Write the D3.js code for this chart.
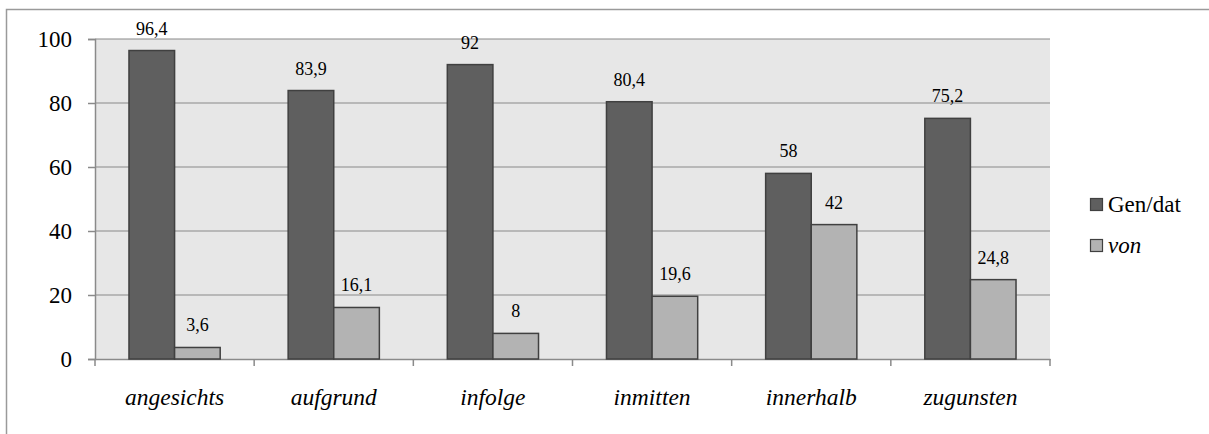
<!DOCTYPE html>
<html>
<head>
<meta charset="utf-8">
<script src="https://cdn.jsdelivr.net/npm/d3@7"></script>
<style>
  html, body { margin: 0; padding: 0; background: #fff; }
  svg { display: block; }
  svg text { font-family: "Liberation Serif", "Times New Roman", Times, serif; fill: #000; }
</style>
</head>
<body>
<svg id="chart" width="1209" height="434"></svg>
<script>
const categories = ["angesichts", "aufgrund", "infolge", "inmitten", "innerhalb", "zugunsten"];
const seriesNames = ["Gen/dat", "von"];
const genDat = [96.4, 83.9, 92, 80.4, 58, 75.2];
const von = [3.6, 16.1, 8, 19.6, 42, 24.8];
const yTicks = [0, 20, 40, 60, 80, 100];
const labelsGen = ["96,4", "83,9", "92", "80,4", "58", "75,2"];
const labelsVon = ["3,6", "16,1", "8", "19,6", "42", "24,8"];

const colors = ["#5f5f5f", "#b3b3b3"];
const FONT = "'Liberation Serif', 'Times New Roman', Times, serif";
const svg = d3.select("#chart");

// outer border (only top and left visible)
svg.append("rect").attr("x", 6.5).attr("y", 9.5).attr("width", 1230).attr("height", 450)
  .attr("fill", "#fff").attr("stroke", "#9a9a9a").attr("stroke-width", 1.5);

const plot = { left: 95, right: 1050, top: 39, bottom: 359 };
const x = d3.scaleBand().domain(categories).range([plot.left, plot.right]).paddingInner(0).paddingOuter(0);
const xs = d3.scaleBand().domain(seriesNames).range([0, x.bandwidth()]).paddingInner(0).paddingOuter(0.745);
const y = d3.scaleLinear().domain([0, 100]).range([plot.bottom, plot.top]);

// plot background
svg.append("rect").attr("x", plot.left).attr("y", plot.top)
  .attr("width", plot.right - plot.left).attr("height", plot.bottom - plot.top)
  .attr("fill", "#e7e7e7");

// gridlines
svg.append("g").selectAll("line").data(yTicks.filter(d => d > 0)).join("line")
  .attr("x1", plot.left).attr("x2", plot.right)
  .attr("y1", d => y(d)).attr("y2", d => y(d))
  .attr("stroke", "#8a8a8a").attr("stroke-width", 1.2);

// y axis
const yAxis = d3.axisLeft(y).tickValues(yTicks).tickSize(7).tickPadding(16).tickFormat(d3.format("d"));
const gy = svg.append("g").attr("transform", `translate(${plot.left},0)`).call(yAxis)
  .attr("font-family", FONT);
gy.select(".domain").attr("stroke", "#8a8a8a").attr("stroke-width", 1.5);
gy.selectAll(".tick line").attr("stroke", "#8a8a8a").attr("stroke-width", 1.5);
gy.selectAll(".tick text").attr("font-size", 23).style("font-family", FONT).attr("dy", "0.34em");

// x axis
const gx = svg.append("g").attr("transform", `translate(0,${plot.bottom})`)
  .call(d3.axisBottom(x).tickSize(0).tickPadding(29)).attr("font-family", FONT);
gx.select(".domain").attr("stroke", "#8a8a8a").attr("stroke-width", 1.5);
gx.selectAll(".tick text").attr("font-size", 23.5).attr("font-style", "italic").style("font-family", FONT);
// category boundary ticks
const bounds = categories.map(c => x(c)).concat([plot.right]);
gx.append("g").selectAll("line").data(bounds).join("line")
  .attr("x1", d => d).attr("x2", d => d).attr("y1", 0).attr("y2", 7)
  .attr("stroke", "#8a8a8a").attr("stroke-width", 1.5);

// bars
const rows = categories.map((c, i) => ({ c, vals: [genDat[i], von[i]], labs: [labelsGen[i], labelsVon[i]] }));
const groups = svg.append("g").selectAll("g").data(rows).join("g")
  .attr("transform", d => `translate(${x(d.c)},0)`);
groups.selectAll("rect").data(d => d.vals.map((v, k) => ({ s: seriesNames[k], v, k }))).join("rect")
  .attr("x", d => xs(d.s)).attr("width", xs.bandwidth())
  .attr("y", d => y(d.v)).attr("height", d => y(0) - y(d.v))
  .attr("fill", d => colors[d.k]).attr("stroke", "#404040").attr("stroke-width", 1.5);
groups.selectAll("text.lab").data(d => d.vals.map((v, k) => ({ s: seriesNames[k], v, k, t: d.labs[k] }))).join("text")
  .attr("class", "lab")
  .attr("x", d => xs(d.s) + xs.bandwidth() / 2).attr("y", d => y(d.v) - 16)
  .attr("text-anchor", "middle").attr("font-size", 18).style("font-family", FONT).text(d => d.t);

// legend
const legend = svg.append("g").attr("transform", "translate(1090,198)");
const li = legend.selectAll("g").data(seriesNames).join("g")
  .attr("transform", (d, i) => `translate(0,${i * 41})`);
li.append("rect").attr("width", 12).attr("height", 12).attr("x", 0.5).attr("y", 0.5)
  .attr("fill", (d, i) => colors[i]).attr("stroke", "#404040").attr("stroke-width", 1.2);
li.append("text").attr("x", 18).attr("y", 14).attr("font-size", 23).style("font-family", FONT)
  .attr("font-style", (d, i) => i === 1 ? "italic" : "normal").text(d => d);
</script>
</body>
</html>
